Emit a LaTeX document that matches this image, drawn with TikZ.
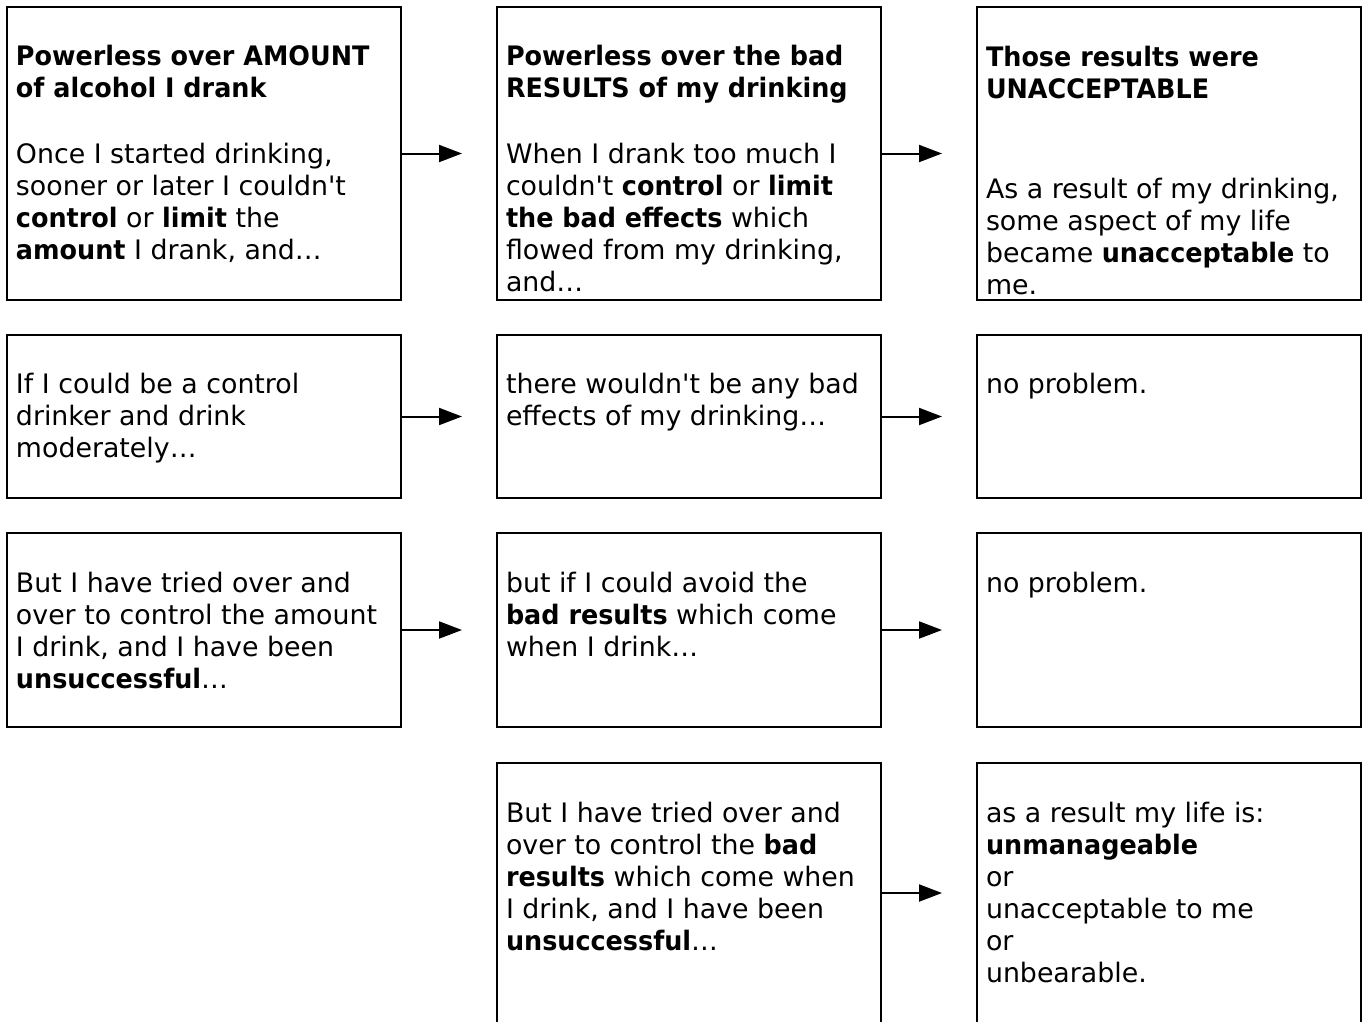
\documentclass[tikz,border=0pt]{standalone}
\usepackage{fontspec}
\newfontfamily\vfont{DejaVu Sans}[BoldFeatures={FakeStretch=0.95}]
\usetikzlibrary{arrows.meta}
\begin{document}
\begin{tikzpicture}[x=1pt,y=-1pt,
  box/.style={draw, line width=2pt, inner sep=0pt, outer sep=0pt, anchor=north west},
  txt/.style={anchor=north west, inner sep=0pt, outer sep=0pt, align=left,
    font=\vfont\fontsize{26.8}{32}\selectfont},
  conn/.style={line width=2pt, -{Triangle[length=23pt,width=17pt]}, shorten >=35pt}]
\useasboundingbox (0,0) rectangle (1363,1021);
\fill[white] (0,0) rectangle (1363,1021);

% boxes
\node[box, minimum width=394pt, minimum height=293pt] (b11) at (7,7) {};
\node[box, minimum width=384pt, minimum height=293pt] (b12) at (497,7) {};
\node[box, minimum width=384pt, minimum height=293pt] (b13) at (977,7) {};
\node[box, minimum width=394pt, minimum height=163pt] (b21) at (7,335) {};
\node[box, minimum width=384pt, minimum height=163pt] (b22) at (497,335) {};
\node[box, minimum width=384pt, minimum height=163pt] (b23) at (977,335) {};
\node[box, minimum width=394pt, minimum height=194pt] (b31) at (7,533) {};
\node[box, minimum width=384pt, minimum height=194pt] (b32) at (497,533) {};
\node[box, minimum width=384pt, minimum height=194pt] (b33) at (977,533) {};
\node[box, minimum width=384pt, minimum height=260pt] (b42) at (497,763) {};
\node[box, minimum width=384pt, minimum height=260pt] (b43) at (977,763) {};

% texts
\node[txt] (t11) at (16,42.6) {\strut\textbf{Powerless over AMOUNT}\\\textbf{of alcohol I drank}\\[34pt]
  Once I started drinking,\\sooner or later I couldn't\\\textbf{control} or \textbf{limit} the\\\textbf{amount} I drank, and…};
\node[txt] (t12) at (506,42.6) {\strut\textbf{Powerless over the bad}\\\textbf{RESULTS of my drinking}\\[34pt]
  When I drank too much I\\couldn't \textbf{control} or \textbf{limit}\\\textbf{the bad effects} which\\flowed from my drinking,\\and…};
\node[txt] (t13) at (986,44) {\strut\textbf{Those results were}\\\textbf{UNACCEPTABLE}\\[68pt]
  As a result of my drinking,\\some aspect of my life\\became \textbf{unacceptable} to\\me.};
\node[txt] (t21) at (16,370.6) {\strut If I could be a control\\drinker and drink\\moderately…};
\node[txt] (t22) at (506,370.6) {\strut there wouldn't be any bad\\effects of my drinking…};
\node[txt] (t23) at (986,370.6) {\strut no problem.};
\node[txt] (t31) at (16,569.6) {\strut But I have tried over and\\over to control the amount\\I drink, and I have been\\\textbf{unsuccessful}…};
\node[txt] (t32) at (506,569.6) {\strut but if I could avoid the\\\textbf{bad results} which come\\when I drink…};
\node[txt] (t33) at (986,569.6) {\strut no problem.};
\node[txt] (t42) at (506,799.6) {\strut But I have tried over and\\over to control the \textbf{bad}\\\textbf{results} which come when\\I drink, and I have been\\\textbf{unsuccessful}…};
\node[txt] (t43) at (986,799.6) {\strut as a result my life is:\\\textbf{unmanageable}\\or\\unacceptable to me\\or\\unbearable.};

% connectors
\draw[conn] (b11.east) -- (b12.west);
\draw[conn] (b12.east) -- (b13.west);
\draw[conn] (b21.east) -- (b22.west);
\draw[conn] (b22.east) -- (b23.west);
\draw[conn] (b31.east) -- (b32.west);
\draw[conn] (b32.east) -- (b33.west);
\draw[conn] (b42.east) -- (b43.west);
\end{tikzpicture}
\end{document}
